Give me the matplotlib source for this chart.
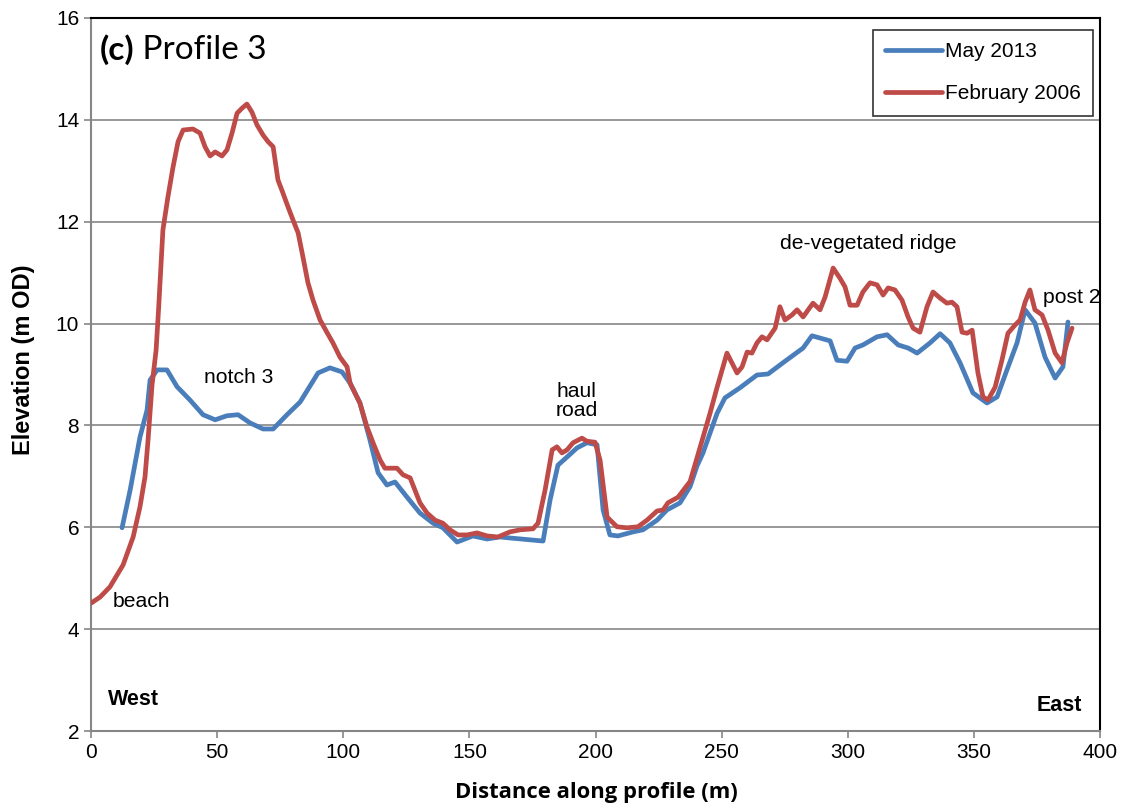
import matplotlib.pyplot as plt

# ===== Data =====
feb2006_x = [0, 3.6, 7.5, 12.7, 16.7, 19.4, 21.4, 22.6, 24.2, 25.8, 26.8, 28.5, 30.5,
             32.5, 34.5, 36.5, 40.4, 43.2, 45.2, 47.2, 49.2, 51.9, 53.9, 55.9, 57.9,
             59.9, 61.8, 63.8, 65.8, 68.2, 70.2, 72.2, 74.1, 76.1, 78.1, 80.1, 82.1,
             84.0, 86.0, 88.0, 90.8, 93.6, 95.9, 98.7, 101.5, 102.7, 106.6, 109.4,
             111.8, 114.6, 116.5, 121.3, 123.7, 126.5, 130.4, 133.2, 136.4, 139.5,
             142.3, 145.5, 149.1, 153.0, 157.0, 161.3, 166.1, 170.1, 175.2, 177.2,
             180.0, 182.8, 184.7, 186.7, 188.7, 191.1, 194.6, 196.6, 199.8, 201.8,
             204.6, 208.5, 212.5, 216.8, 220.4, 224.4, 226.8, 228.7, 232.7, 237.5,
             240.2, 242.6, 245.4, 248.2, 252.1, 256.1, 258.1, 260.1, 262.0, 264.0,
             266.0, 268.0, 271.2, 273.1, 275.1, 277.9, 279.9, 282.3, 286.2, 289.0,
             291.0, 294.2, 296.9, 298.9, 300.9, 303.7, 306.0, 308.8, 311.6, 314.0,
             316.0, 318.7, 321.5, 323.9, 325.9, 328.6, 331.4, 333.8, 336.6, 339.3,
             341.3, 343.3, 345.3, 347.3, 349.3, 351.6, 353.6, 355.6, 358.4, 361.1,
             363.5, 366.3, 368.3, 370.3, 372.2, 374.2, 377.0, 379.4, 382.2, 384.9,
             386.9, 388.9]
feb2006_y = [4.51, 4.63, 4.83, 5.26, 5.81, 6.40, 6.99, 7.71, 8.80, 9.48, 10.30, 11.84, 12.49,
             13.07, 13.57, 13.80, 13.82, 13.74, 13.47, 13.29, 13.37, 13.29, 13.41, 13.74, 14.13,
             14.23, 14.31, 14.15, 13.90, 13.70, 13.57, 13.47, 12.82, 12.56, 12.29, 12.03, 11.78,
             11.31, 10.80, 10.46, 10.07, 9.82, 9.62, 9.34, 9.15, 8.83, 8.44, 7.97,
             7.66, 7.32, 7.16, 7.16, 7.03, 6.97, 6.48, 6.28, 6.14, 6.08,
             5.95, 5.85, 5.85, 5.89, 5.83, 5.81, 5.91, 5.95, 5.97, 6.08,
             6.73, 7.52, 7.58, 7.46, 7.52, 7.66, 7.75, 7.69, 7.67, 7.32,
             6.20, 6.01, 5.99, 6.01, 6.14, 6.32, 6.34, 6.48, 6.59, 6.90,
             7.36, 7.77, 8.24, 8.75, 9.42, 9.03, 9.15, 9.44, 9.42, 9.62,
             9.74, 9.68, 9.91, 10.33, 10.07, 10.17, 10.27, 10.13, 10.40, 10.27,
             10.52, 11.09, 10.89, 10.72, 10.36, 10.36, 10.62, 10.80, 10.76, 10.56,
             10.70, 10.66, 10.46, 10.13, 9.91, 9.83, 10.33, 10.62, 10.50, 10.40,
             10.42, 10.33, 9.83, 9.81, 9.87, 9.03, 8.56, 8.50, 8.75, 9.28,
             9.81, 9.97, 10.07, 10.42, 10.66, 10.27, 10.17, 9.87, 9.42, 9.23,
             9.62, 9.91]

may2013_x = [12.3, 15.5, 19.4, 22.2, 23.4, 26.2, 30.1, 34.1, 39.2, 44.4, 49.2, 53.9, 58.3,
             63.0, 68.2, 72.2, 77.7, 82.9, 90.0, 94.7, 99.5, 102.7, 106.6, 110.6, 113.8,
             117.3, 120.5, 125.3, 130.4, 135.6, 139.5, 145.1, 151.4, 157.0, 162.1, 166.1,
             179.2, 182.0, 185.1, 188.7, 192.7, 196.6, 200.6, 203.0, 205.7, 208.9, 214.9,
             218.8, 224.4, 228.3, 233.5, 237.5, 240.2, 242.6, 245.4, 248.2, 251.3, 257.3,
             264.0, 268.4, 274.3, 282.3, 285.8, 293.0, 295.7, 299.7, 302.9, 306.0, 311.6,
             315.6, 320.0, 323.9, 327.5, 332.6, 336.6, 340.5, 344.5, 349.6, 355.2, 359.2,
             363.1, 367.1, 370.3, 374.2, 378.2, 382.2, 385.3, 387.3]
may2013_y = [5.99, 6.73, 7.77, 8.30, 8.89, 9.09, 9.09, 8.76, 8.50, 8.21, 8.11, 8.19, 8.21,
             8.05, 7.93, 7.93, 8.21, 8.46, 9.03, 9.13, 9.05, 8.83, 8.44, 7.71, 7.07,
             6.83, 6.89, 6.59, 6.28, 6.08, 5.99, 5.71, 5.83, 5.77, 5.81, 5.79,
             5.73, 6.54, 7.22, 7.38, 7.56, 7.66, 7.62, 6.34, 5.85, 5.83, 5.91,
             5.95, 6.14, 6.34, 6.48, 6.80, 7.20, 7.46, 7.85, 8.24, 8.54, 8.74,
             8.99, 9.01, 9.23, 9.52, 9.76, 9.66, 9.28, 9.26, 9.52, 9.58, 9.74,
             9.78, 9.58, 9.52, 9.42, 9.62, 9.80, 9.62, 9.23, 8.64, 8.44, 8.56,
             9.09, 9.62, 10.27, 10.01, 9.34, 8.93, 9.15, 10.03]

x_ticks = [0, 50, 100, 150, 200, 250, 300, 350, 400]
y_ticks = [2, 4, 6, 8, 10, 12, 14, 16]

BLUE = "#4A7EBB"
RED = "#BE4B48"


def main():
    fig = plt.figure(figsize=(11.28, 8.09), dpi=100)
    ax = fig.add_axes([0.0807, 0.0964, 0.8945, 0.8814])

    ax.plot(may2013_x, may2013_y, color=BLUE, linewidth=3.4, label="May 2013",
            solid_capstyle="round", zorder=3)
    ax.plot(feb2006_x, feb2006_y, color=RED, linewidth=3.4, label="February 2006",
            solid_capstyle="round", zorder=4)

    ax.set_xlim(0, 400)
    ax.set_ylim(2, 16)
    ax.set_xticks(x_ticks)
    ax.set_yticks(y_ticks)
    ax.tick_params(direction="out", length=5, color="#868686", labelsize=15,
                   width=1.2)
    for lab in ax.get_xticklabels() + ax.get_yticklabels():
        lab.set_family("Liberation Sans")

    ax.grid(axis="y", color="#868686", linewidth=1.2)
    ax.set_axisbelow(True)
    for side in ["left", "bottom"]:
        ax.spines[side].set_color("#868686")
        ax.spines[side].set_linewidth(1.5)
    for side in ["top", "right"]:
        ax.spines[side].set_color("black")
        ax.spines[side].set_linewidth(1.5)

    # axis titles
    fig.text(0.5284, 0.0198, "Distance along profile (m)", fontsize=15.8,
             fontweight="bold", family="Open Sans", ha="center", va="center")
    fig.text(0.0204, 0.555, "Elevation (m OD)", fontsize=17, fontweight="bold",
             family="Liberation Sans", rotation=90, ha="center", va="center")

    # panel title
    t1 = ax.text(3.3, 15.37, "(c)", fontsize=24, fontweight="bold", family="Lato",
                 va="center", ha="left")
    ax.annotate(" Profile 3", xy=(1, 0.5), xycoords=t1, fontsize=24,
                family="Lato", va="center", ha="left")

    # annotations
    txt = dict(fontsize=15.2, family="Liberation Sans", ha="center", va="center")
    ax.text(19.8, 4.55, "beach", **txt)
    ax.text(58.7, 8.95, "notch 3", **txt)
    ax.text(192.5, 8.47, "haul\nroad", linespacing=1.0, **txt)
    ax.text(308, 11.58, "de-vegetated ridge", **txt)
    ax.text(389, 10.52, "post 2", **txt)
    ax.text(6.6, 2.61, "West", fontsize=15.5, fontweight="bold",
            family="Liberation Sans", ha="left", va="center")
    ax.text(392.8, 2.51, "East", fontsize=15.5, fontweight="bold",
            family="Liberation Sans", ha="right", va="center")

    leg = ax.legend(loc="upper right", bbox_to_anchor=(0.9931, 0.9832),
                    borderaxespad=0,
                    prop={"family": "Liberation Sans", "size": 15},
                    frameon=True, fancybox=False, handlelength=2.7,
                    handletextpad=0.15, borderpad=0.6, labelspacing=1.1)
    leg.get_frame().set_edgecolor("black")
    leg.get_frame().set_linewidth(1.2)

    fig.savefig("out.png", dpi=100)


if __name__ == "__main__":
    main()
